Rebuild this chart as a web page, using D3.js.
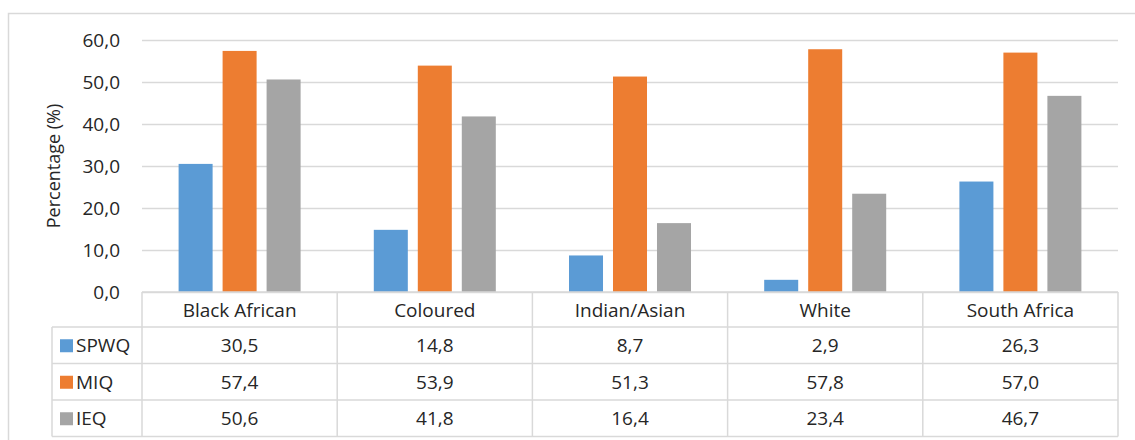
<!DOCTYPE html>
<html><head><meta charset="utf-8">
<script src="https://cdn.jsdelivr.net/npm/d3@7"></script>
<style>
html,body{margin:0;padding:0;background:#fff;}
svg{display:block;font-family:"Open Sans","Liberation Sans",sans-serif;}
</style></head>
<body>
<svg id="c" width="1135" height="440"></svg>
<script>
const categories = ["Black African","Coloured","Indian/Asian","White","South Africa"];
const seriesNames = ["SPWQ","MIQ","IEQ"];
const seriesColors = ["#5B9BD5","#ED7D31","#A5A5A5"];
const spwq = [30.5,14.8,8.7,2.9,26.3];
const miq = [57.4,53.9,51.3,57.8,57.0];
const ieq = [50.6,41.8,16.4,23.4,46.7];
const yTicks = [0,10,20,30,40,50,60];
const yTitle = "Percentage (%)";

(function(){
const series = [spwq, miq, ieq];
const fmt = v => d3.format(".1f")(v).replace(".", ",");
const svg = d3.select("#c");
const txt = "#262626";
const gridC = "#D9D9D9";
const fs = "19px";
const fw = 500;

const pLeft = 142, pRight = 1118, pTop = 40, base = 292;
const tableLeft = 52;
const headerBottom = 327;
const rowH = 36.5;

// outer border
svg.append("rect").attr("x",8.5).attr("y",13.5).attr("width",1140).attr("height",440)
  .attr("fill","none").attr("stroke",gridC).attr("stroke-width",1.5);

const x0 = d3.scaleBand().domain(categories).range([pLeft,pRight]).paddingInner(0).paddingOuter(0);
const y = d3.scaleLinear().domain([0,60]).range([base,pTop]);
const groupW = 122;
const x1 = d3.scaleBand().domain(seriesNames).range([0,groupW]).paddingInner(0.227).paddingOuter(0);

// gridlines
const yAxis = d3.axisLeft(y).tickValues(yTicks).tickSize(-(pRight-pLeft)).tickFormat(fmt).tickPadding(22);
const ga = svg.append("g").attr("transform",`translate(${pLeft},0)`).call(yAxis);
ga.select(".domain").remove();
ga.selectAll(".tick line").attr("stroke",gridC).attr("stroke-width",1.5);
ga.selectAll(".tick text").attr("fill",txt).style("font-size",fs).style("font-weight",fw)
  .style("font-family","Open Sans, sans-serif").attr("dy","0.34em");

// y title
svg.append("text").attr("transform","translate(60,166) rotate(-90)").attr("text-anchor","middle")
  .attr("fill",txt).style("font-size","18px").style("font-weight",fw).text(yTitle);

// bars
const g = svg.append("g");
categories.forEach((c,ci)=>{
  const cx = x0(c) + x0.bandwidth()/2 - groupW/2;
  seriesNames.forEach((s,si)=>{
    const v = series[si][ci];
    g.append("rect").attr("x",cx + x1(s)).attr("y",y(v))
      .attr("width",x1.bandwidth()).attr("height",base - y(v))
      .attr("fill",seriesColors[si]);
  });
});

// table lines
const tl = svg.append("g").attr("stroke",gridC).attr("stroke-width",1.5).attr("fill","none");
tl.append("line").attr("x1",pLeft).attr("x2",pRight).attr("y1",base).attr("y2",base);
for(let r=0;r<=3;r++){
  const yy = headerBottom + r*rowH;
  tl.append("line").attr("x1",tableLeft).attr("x2",pRight).attr("y1",yy).attr("y2",yy);
}
const tableBottom = headerBottom + 3*rowH;
tl.append("line").attr("x1",tableLeft).attr("x2",tableLeft).attr("y1",headerBottom).attr("y2",tableBottom);
categories.forEach(c=>{
  tl.append("line").attr("x1",x0(c)).attr("x2",x0(c)).attr("y1",base).attr("y2",tableBottom);
});
tl.append("line").attr("x1",pRight).attr("x2",pRight).attr("y1",base).attr("y2",tableBottom);

// header labels
categories.forEach(c=>{
  svg.append("text").attr("x",x0(c)+x0.bandwidth()/2).attr("y",(base+headerBottom)/2+7)
    .attr("text-anchor","middle").attr("fill",txt).style("font-size",fs).style("font-weight",fw).text(c);
});
// rows
seriesNames.forEach((s,si)=>{
  const yc = headerBottom + si*rowH + rowH/2;
  svg.append("rect").attr("x",60).attr("y",yc-6).attr("width",13).attr("height",13).attr("fill",seriesColors[si]);
  svg.append("text").attr("x",76).attr("y",yc+7).attr("fill",txt).style("font-size",fs).style("font-weight",fw).text(s);
  categories.forEach((c,ci)=>{
    svg.append("text").attr("x",x0(c)+x0.bandwidth()/2).attr("y",yc+7)
      .attr("text-anchor","middle").attr("fill",txt).style("font-size",fs).style("font-weight",fw).text(fmt(series[si][ci]));
  });
});
})();
</script>
</body></html>
